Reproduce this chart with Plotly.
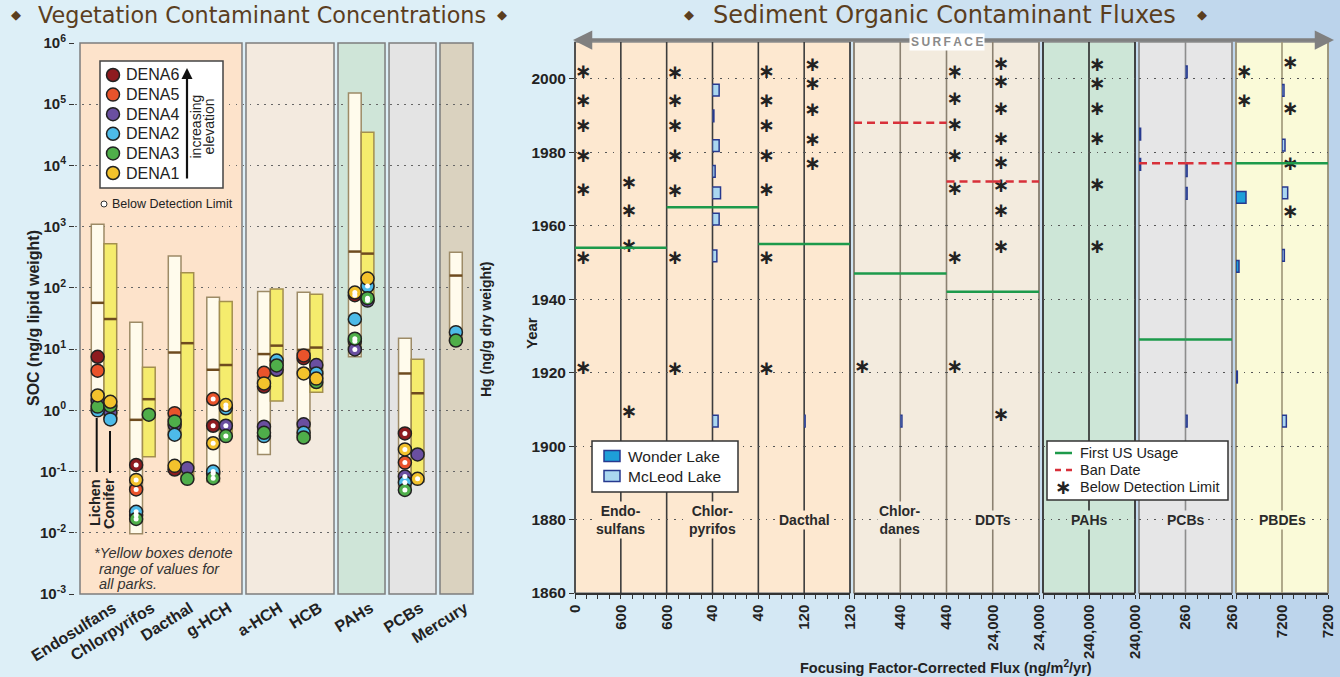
import plotly.graph_objects as go

W, H = 1340, 677
SANS = "Liberation Sans"
TITLE_FONT = "DejaVu Sans"
INK = "#222222"


def PX(p):
    return p / W


def PY(p):
    return 1 - p / H


# ====================== Vegetation contaminant concentrations ======================
CATEGORIES = ["Endosulfans", "Chlorpyrifos", "Dacthal", "g-HCH", "a-HCH", "HCB", "PAHs", "PCBs", "Mercury"]
LICHEN_LOW = [0.95, 0.0096, 0.098, 0.068, 0.19, 0.33, 7.5, 0.057, 13.3]
LICHEN_HIGH = [1100, 27.5, 333, 70.5, 87, 85, 152000, 15.1, 383]
LICHEN_MEDIAN = [57, 0.70, 8.8, 4.6, 8.3, 9.7, 392, 4.0, 159]
CONIFER_LOW = [0.75, 0.175, 0.073, 0.37, 1.42, 1.98, 60, 0.068, None]
CONIFER_HIGH = [525, 5.06, 176, 60, 96, 79, 35000, 6.8, None]
CONIFER_MEDIAN = [31, 1.52, 12.5, 5.5, 11.4, 10.6, 363, 1.9, None]

SITES = ["DENA6", "DENA5", "DENA4", "DENA2", "DENA3", "DENA1"]
SITE_COLORS = ["#8e1b1f", "#e9532b", "#6a4fa0", "#4dbbe9", "#4fae4a", "#f3c22c"]

LICHEN_DENA6 = [7.5, 0.128, 0.108, 0.56, 2.45, 7.1, 76, 0.42, None]
LICHEN_DENA5 = [4.45, 0.051, 0.9, 1.53, 4.1, 7.9, 13.4, 0.14, None]
LICHEN_DENA4 = [1.45, 0.0195, 0.58, 0.093, 0.54, 0.59, 9.9, 0.083, None]
LICHEN_DENA2 = [1.0, 0.022, 0.40, 0.10, 0.38, 0.43, 30.8, 0.066, 18.9]
LICHEN_DENA3 = [1.15, 0.0168, 0.66, 0.078, 0.43, 0.36, 14.8, 0.05, 13.8]
LICHEN_DENA1 = [1.75, 0.073, 0.124, 0.29, 2.75, 4.0, 84, 0.23, None]
# 1 = below detection limit
LICHEN_BDL_DENA6 = [0, 1, 0, 1, 0, 0, 1, 1, 0]
LICHEN_BDL_DENA5 = [0, 1, 0, 1, 0, 0, 1, 1, 0]
LICHEN_BDL_DENA4 = [0, 1, 0, 1, 0, 0, 1, 1, 0]
LICHEN_BDL_DENA2 = [0, 1, 0, 1, 0, 0, 0, 1, 0]
LICHEN_BDL_DENA3 = [0, 1, 0, 1, 0, 0, 1, 1, 0]
LICHEN_BDL_DENA1 = [0, 1, 0, 1, 0, 0, 1, 1, 0]

CONIFER_DENA6 = [None, None, None, None, None, None, None, None, None]
CONIFER_DENA5 = [None, None, None, None, None, None, None, None, None]
CONIFER_DENA4 = [0.92, None, 0.113, 0.56, 4.6, 5.5, 62, 0.19, None]
CONIFER_DENA2 = [0.71, None, None, 1.08, 6.5, 4.0, 107, None, None]
CONIFER_DENA3 = [1.18, 0.85, 0.076, 0.38, 5.4, 2.9, 68, None, None]
CONIFER_DENA1 = [1.38, None, None, 1.22, None, 3.3, 142, 0.076, None]
CONIFER_BDL_DENA6 = [0, 0, 0, 0, 0, 0, 0, 0, 0]
CONIFER_BDL_DENA5 = [0, 0, 0, 0, 0, 0, 0, 0, 0]
CONIFER_BDL_DENA4 = [0, 0, 0, 1, 0, 0, 1, 0, 0]
CONIFER_BDL_DENA2 = [0, 0, 0, 1, 0, 0, 1, 0, 0]
CONIFER_BDL_DENA3 = [0, 0, 0, 1, 0, 0, 1, 0, 0]
CONIFER_BDL_DENA1 = [0, 0, 0, 1, 0, 0, 0, 1, 0]

LOG_TICKS = [-3, -2, -1, 0, 1, 2, 3, 4, 5, 6]

# ====================== Sediment organic contaminant fluxes ======================
CONTAMINANTS = ["Endo-<br>sulfans", "Chlor-<br>pyrifos", "Dacthal", "Chlor-<br>danes", "DDTs", "PAHs", "PCBs", "PBDEs"]
FLUX_MAX = [600, 40, 120, 440, 24000, 240000, 260, 7200]
FLUX_MAX_LABELS = ["600", "40", "120", "440", "24,000", "240,000", "260", "7200"]
FIRST_US_USAGE = [1954, 1965, 1955, 1947, 1942, None, 1929, 1977]
BAN_DATE = [None, None, None, 1988, 1972, None, 1977, None]
LAKES = ["Wonder Lake", "McLeod Lake"]
WONDER_BAR_YEARS = [[], [], [], [], [], [], [1984.9, 1976.7], [1967.7, 1948.9, 1918.8]]
WONDER_BAR_FLUX = [[], [], [], [], [], [], [9, 9], [1565, 470, 210]]
MCLEOD_BAR_YEARS = [[], [1996.9, 1989.9, 1981.8, 1974.8, 1968.9, 1961.8, 1951.8, 1906.8], [1906.8], [1906.8],
                    [], [], [2001.9, 1975.0, 1968.8, 1906.8], [1996.8, 1981.9, 1968.9, 1951.9, 1906.8]]
MCLEOD_BAR_FLUX = [[], [5.8, 1.2, 5.8, 2.3, 7.0, 5.8, 3.8, 4.9], [2.5], [16],
                   [], [], [9, 9, 9, 9], [313, 470, 890, 365, 680]]
WONDER_BDL_YEARS = [[2001.5, 1993.8, 1986.9, 1978.8, 1969.5, 1950.9, 1920.9],
                    [2001.3, 1993.8, 1986.9, 1978.6, 1969.1, 1950.9, 1920.6],
                    [2001.5, 1993.8, 1986.9, 1978.6, 1969.5, 1951.0, 1920.6],
                    [1921.3],
                    [2001.5, 1994.1, 1987.0, 1978.8, 1969.6, 1951.0, 1921.3],
                    [], [], [2001.5, 1993.6]]
MCLEOD_BDL_YEARS = [[1971.3, 1963.6, 1954.1, 1908.9],
                    [],
                    [2003.4, 1998.2, 1991.1, 1983.1, 1976.4],
                    [],
                    [2003.7, 1998.8, 1991.6, 1983.4, 1976.8, 1970.4, 1963.6, 1953.8, 1908.3],
                    [2003.6, 1998.2, 1991.6, 1983.2, 1970.7, 1953.9],
                    [], [2004.0, 1991.6, 1976.6, 1963.4]]
YEAR_TICKS = [1860, 1880, 1900, 1920, 1940, 1960, 1980, 2000]
SLICE_YEARS = 3.2

# ====================== layout constants ======================
CAT_POS = [0, 1, 2, 3, 4.32, 5.35, 6.68, 7.98, 9.14]
BOX_W = 0.33
HALF = BOX_W / 2
LEFT_PANELS = [(-0.623, 3.584, "#fde3cb"), (3.688, 5.974, "#f3eadf"), (6.078, 7.299, "#cfe5d8"),
               (7.403, 8.623, "#e4e4e4"), (8.727, 9.584, "#dad2bf")]

GROUP_START_PX = [575, 854, 1043, 1139, 1236]
GROUP_END_PX = [850, 1039, 1135, 1232, 1328]
GROUP_MEMBERS = [[0, 1, 2], [3, 4], [5], [6], [7]]
GROUP_FILL = ["#fde8d0", "#f3ebde", "#cde6d7", "#e6e6e7", "#fafad8"]
GROUP_LINE = ["#3c3c3c", "#8b8171", "#2a2a2a", "#8d8d8d", "#9d9577"]
LAKE_FILL = ["#1e9fd8", "#aad7f0"]
LAKE_EDGE = "#27398f"

fig = go.Figure()
shapes = []
anns = []


def txt(t, x, y, size=14, color=INK, bold=False, italic=False, family=SANS,
        xanchor="center", yanchor="middle", angle=0, bg=None):
    d = dict(text=t, x=PX(x), y=PY(y), xref="paper", yref="paper", showarrow=False,
             xanchor=xanchor, yanchor=yanchor, textangle=angle,
             font=dict(family=family, size=size, color=color,
                       weight="bold" if bold else "normal",
                       style="italic" if italic else "normal"))
    if bg:
        d["bgcolor"] = bg
    anns.append(d)


def rect_px(x0, y0, x1, y1, fill, line_color=None, lw=0, layer="above"):
    shapes.append(dict(type="rect", xref="paper", yref="paper", x0=PX(x0), x1=PX(x1),
                       y0=PY(y1), y1=PY(y0), fillcolor=fill, layer=layer,
                       line=dict(color=line_color or fill, width=lw)))


def hex2rgb(h):
    return tuple(int(h[i:i + 2], 16) for i in (1, 3, 5))


# ---- background gradient ----
c_a, c_b = hex2rgb("#ddeff7"), hex2rgb("#bbd3eb")
NSTRIP = 67
for i in range(NSTRIP):
    t = i / (NSTRIP - 1)
    t = max(0.0, (t - 0.35) / 0.65) ** 1.3
    col = "rgb(%d,%d,%d)" % tuple(round(a + (b - a) * t) for a, b in zip(c_a, c_b))
    shapes.append(dict(type="rect", xref="paper", yref="paper", x0=i / NSTRIP, x1=(i + 1) / NSTRIP + 0.002,
                       y0=0, y1=1, fillcolor=col, line=dict(width=0), layer="below"))

# ---- left panel backgrounds ----
for x0, x1, col in LEFT_PANELS:
    shapes.append(dict(type="rect", xref="x", yref="y domain", x0=x0, x1=x1, y0=0, y1=1,
                       fillcolor=col, line=dict(color="#7d7d7d", width=1.5), layer="below"))

# ---- right group backgrounds ----
for g in range(len(GROUP_MEMBERS)):
    rect_px(GROUP_START_PX[g], 42, GROUP_END_PX[g], 593, GROUP_FILL[g], "#8d8d8d", 1.5, layer="below")

# ---- left: range boxes ----
n_cat = len(CATEGORIES)
single = [CONIFER_LOW[i] is None for i in range(n_cat)]
lich_x = [CAT_POS[i] + (0 if single[i] else -HALF) for i in range(n_cat)]
con_idx = [i for i in range(n_cat) if not single[i]]
con_x = [CAT_POS[i] + HALF for i in con_idx]

fig.add_trace(go.Bar(x=lich_x, base=LICHEN_LOW, y=[h - l for h, l in zip(LICHEN_HIGH, LICHEN_LOW)],
                     width=BOX_W, xaxis="x", yaxis="y", showlegend=False, hoverinfo="skip",
                     marker=dict(color="#fffbec", line=dict(color="#9d8b67", width=1.5))))
fig.add_trace(go.Bar(x=con_x, base=[CONIFER_LOW[i] for i in con_idx],
                     y=[CONIFER_HIGH[i] - CONIFER_LOW[i] for i in con_idx],
                     width=BOX_W, xaxis="x", yaxis="y", showlegend=False, hoverinfo="skip",
                     marker=dict(color="#f5ec6d", line=dict(color="#a38f4f", width=1.5))))

mx, my = [], []
for x, m in zip(lich_x, LICHEN_MEDIAN):
    mx += [x - HALF, x + HALF, None]
    my += [m, m, None]
for x, i in zip(con_x, con_idx):
    mx += [x - HALF, x + HALF, None]
    my += [CONIFER_MEDIAN[i], CONIFER_MEDIAN[i], None]
fig.add_trace(go.Scatter(x=mx, y=my, mode="lines", line=dict(color="#6e4b1f", width=2.5),
                         xaxis="x", yaxis="y", showlegend=False, hoverinfo="skip"))

site_lichen = [LICHEN_DENA6, LICHEN_DENA5, LICHEN_DENA4, LICHEN_DENA2, LICHEN_DENA3, LICHEN_DENA1]
site_lichen_bdl = [LICHEN_BDL_DENA6, LICHEN_BDL_DENA5, LICHEN_BDL_DENA4, LICHEN_BDL_DENA2,
                   LICHEN_BDL_DENA3, LICHEN_BDL_DENA1]
site_conifer = [CONIFER_DENA6, CONIFER_DENA5, CONIFER_DENA4, CONIFER_DENA2, CONIFER_DENA3, CONIFER_DENA1]
site_conifer_bdl = [CONIFER_BDL_DENA6, CONIFER_BDL_DENA5, CONIFER_BDL_DENA4, CONIFER_BDL_DENA2,
                    CONIFER_BDL_DENA3, CONIFER_BDL_DENA1]

bdl_x, bdl_y = [], []
for s, site in enumerate(SITES):
    xs, ys = [], []
    for i in range(n_cat):
        v = site_lichen[s][i]
        if v is not None:
            xs.append(lich_x[i]); ys.append(v)
            if site_lichen_bdl[s][i]:
                bdl_x.append(lich_x[i]); bdl_y.append(v)
        v = site_conifer[s][i]
        if v is not None:
            xs.append(CAT_POS[i] + HALF); ys.append(v)
            if site_conifer_bdl[s][i]:
                bdl_x.append(CAT_POS[i] + HALF); bdl_y.append(v)
    fig.add_trace(go.Scatter(x=xs, y=ys, mode="markers", name=site, xaxis="x", yaxis="y",
                             marker=dict(size=13, color=SITE_COLORS[s], line=dict(color="#222", width=1.5)),
                             showlegend=False, hoverinfo="skip", cliponaxis=False))
fig.add_trace(go.Scatter(x=bdl_x, y=bdl_y, mode="markers", name="Below Detection Limit",
                         xaxis="x", yaxis="y", showlegend=False, hoverinfo="skip", cliponaxis=False,
                         marker=dict(size=5, color="white", line=dict(width=0))))

# ---- right chart: sub-column axes ----
sub_domains = []
for g, members in enumerate(GROUP_MEMBERS):
    n = 2 * len(members)
    w = (GROUP_END_PX[g] - GROUP_START_PX[g]) / n
    for k in range(n):
        sub_domains.append((GROUP_START_PX[g] + k * w, GROUP_START_PX[g] + (k + 1) * w))

# vertical column lines
sub_i = 0
for g, members in enumerate(GROUP_MEMBERS):
    n = 2 * len(members)
    edges = [sub_domains[sub_i + k][0] for k in range(n)] + [sub_domains[sub_i + n - 1][1]]
    for e in edges:
        shapes.append(dict(type="line", xref="paper", yref="paper", x0=PX(e), x1=PX(e),
                           y0=PY(593), y1=PY(42), line=dict(color=GROUP_LINE[g], width=1.6), layer="below"))
    sub_i += n

layout_axes = {}
for c in range(len(CONTAMINANTS)):
    for l in range(2):
        s = 2 * c + l
        n = s + 2
        ax = "x%d" % n
        mxv = FLUX_MAX[c]
        tv = [mxv * k / 4 for k in range(5)]
        tt = ["", "", "", "", FLUX_MAX_LABELS[c]]
        if s == 0:
            tt[0] = "0"
        a, b = sub_domains[s]
        layout_axes["xaxis%d" % n] = dict(
            domain=[PX(a), PX(b)], range=[0, mxv], anchor="y2", tickmode="array", tickvals=tv,
            ticktext=tt, tickangle=-90, ticks="outside", ticklen=4, tickwidth=1, tickcolor="#333",
            showgrid=False, zeroline=False, showline=True, linecolor="#333", linewidth=1.5,
            tickfont=dict(family=SANS, size=15, color=INK, weight="bold"), automargin=False,
            fixedrange=True)
        years = (WONDER_BAR_YEARS if l == 0 else MCLEOD_BAR_YEARS)[c]
        flux = (WONDER_BAR_FLUX if l == 0 else MCLEOD_BAR_FLUX)[c]
        fig.add_trace(go.Bar(x=flux, y=years, base=[0] * len(flux), orientation="h", width=SLICE_YEARS,
                             xaxis=ax, yaxis="y2", name=LAKES[l], showlegend=False, hoverinfo="skip",
                             marker=dict(color=LAKE_FILL[l], line=dict(color=LAKE_EDGE, width=1.5))))
        bdl = (WONDER_BDL_YEARS if l == 0 else MCLEOD_BDL_YEARS)[c]
        fig.add_trace(go.Scatter(x=[0] * len(bdl), y=bdl, mode="text", text=["\u2217"] * len(bdl),
                                 textposition="middle right", xaxis=ax, yaxis="y2", cliponaxis=False,
                                 textfont=dict(family="DejaVu Sans", size=20, color="#222", weight="bold"),
                                 showlegend=False, hoverinfo="skip"))
        if FIRST_US_USAGE[c] is not None:
            shapes.append(dict(type="line", xref=ax + " domain", yref="y2", x0=0, x1=1,
                               y0=FIRST_US_USAGE[c], y1=FIRST_US_USAGE[c],
                               line=dict(color="#1d9a4b", width=2.5), layer="above"))
        if BAN_DATE[c] is not None:
            shapes.append(dict(type="line", xref=ax + " domain", yref="y2", x0=0, x1=1,
                               y0=BAN_DATE[c], y1=BAN_DATE[c],
                               line=dict(color="#d8303a", width=2.5, dash="8px,5px"), layer="above"))

# contaminant labels
for c, name in enumerate(CONTAMINANTS):
    s = 2 * c
    xc = sub_domains[s][1]
    g = [gi for gi, m in enumerate(GROUP_MEMBERS) if c in m][0]
    txt("<b>%s</b>" % name, xc, 520, size=14, color="#2a2a2a", bg=GROUP_FILL[g])

# ---- top arrow & SURFACE ----
for head, ax_off in ((573, 380), (1334, -381)):
    anns.append(dict(x=PX(head), y=PY(40), xref="paper", yref="paper", text="", showarrow=True,
                     ax=ax_off, ay=0, arrowhead=2, arrowsize=1.1, arrowwidth=3.5, arrowcolor="#808080"))
txt("S\u2009U\u2009R\u2009F\u2009A\u2009C\u2009E", 947, 42, size=12, color="#8a8a8a", bold=True, bg="white")

# ---- titles ----
TITLE_COL = "#5b3e1e"
txt("Vegetation Contaminant Concentrations", 261.5, 15, size=22.3, color=TITLE_COL, family=TITLE_FONT)
txt("Sediment Organic Contaminant Fluxes", 944.5, 15, size=24, color=TITLE_COL, family=TITLE_FONT)
for xd in (15.5, 501.5, 688.5, 1201.5):
    txt("\u25c6", xd, 15, size=13, color=TITLE_COL, family=TITLE_FONT)

# ---- left legend (DENA sites) ----
rect_px(100, 61, 223, 188, "white", "#444", 1.5)
for k, site in enumerate(SITES):
    cy = 75 + k * 19.6
    shapes.append(dict(type="circle", xref="paper", yref="paper", x0=PX(106.5), x1=PX(119.5),
                       y0=PY(cy + 6.5), y1=PY(cy - 6.5), fillcolor=SITE_COLORS[k],
                       line=dict(color="#222", width=1.5), layer="above"))
    txt(site, 124, cy, size=16, color=INK, xanchor="left")
anns.append(dict(x=PX(187), y=PY(68), xref="paper", yref="paper", text="", showarrow=True,
                 ax=0, ay=112, arrowhead=2, arrowsize=1, arrowwidth=2.2, arrowcolor="#111"))
txt("increasing", 195.5, 127, size=14, angle=-90)
txt("elevation", 208.5, 127, size=14, angle=-90)
shapes.append(dict(type="circle", xref="paper", yref="paper", x0=PX(101), x1=PX(107),
                   y0=PY(207), y1=PY(201), fillcolor="white", line=dict(color="#333", width=1), layer="above"))
txt("Below Detection Limit", 110, 204, size=12.5, xanchor="left")

# note
txt("*Yellow boxes denote", 92, 553, size=14.5, italic=True, xanchor="left", color="#333")
txt("range of values for", 97, 569, size=14.5, italic=True, xanchor="left", color="#333")
txt("all parks.", 97, 584, size=14.5, italic=True, xanchor="left", color="#333")

# lichen / conifer markers
shapes.append(dict(type="line", xref="paper", yref="paper", x0=PX(96.7), x1=PX(96.7), y0=PY(418), y1=PY(472),
                   line=dict(color="#111", width=2), layer="above"))
shapes.append(dict(type="line", xref="paper", yref="paper", x0=PX(110), x1=PX(110), y0=PY(431), y1=PY(473),
                   line=dict(color="#111", width=2), layer="above"))
txt("Lichen", 95.5, 502.5, size=14.5, bold=True, angle=-90)
txt("Conifer", 109, 503, size=14.5, bold=True, angle=-90)

# axis titles
txt("SOC (ng/g lipid weight)", 33, 318, size=16, bold=True, angle=-90)
txt("Hg (ng/g dry weight)", 486, 330, size=14, bold=True, angle=-90)
txt("Year", 531, 333, size=15, bold=True, angle=-90)
txt("Focusing Factor-Corrected Flux (ng/m<sup>2</sup>/yr)", 946, 667, size=14.5, bold=True)

# ---- right legends ----
rect_px(592, 441, 738, 492, "white", "#333", 1.5)
for k, lake in enumerate(LAKES):
    cy = 456 + 20 * k
    rect_px(604, cy - 5.5, 620, cy + 5.5, LAKE_FILL[k], LAKE_EDGE, 1.5)
    txt(lake, 626, cy, size=15.5, xanchor="left")

rect_px(1047, 441, 1228, 500, "white", "#333", 1.5)
shapes.append(dict(type="line", xref="paper", yref="paper", x0=PX(1055), x1=PX(1072), y0=PY(453), y1=PY(453),
                   line=dict(color="#1d9a4b", width=2.5), layer="above"))
shapes.append(dict(type="line", xref="paper", yref="paper", x0=PX(1055), x1=PX(1073), y0=PY(470), y1=PY(470),
                   line=dict(color="#d8303a", width=2.5, dash="6px,5px"), layer="above"))
txt("\u2217", 1063, 487, size=20, bold=True, family="DejaVu Sans")
txt("First US Usage", 1078, 453, size=14.5, xanchor="left")
txt("Ban Date", 1078, 470, size=14.5, xanchor="left")
txt("Below Detection Limit", 1078, 487, size=14.5, xanchor="left")

# ---- layout ----
fig.update_layout(
    width=W, height=H, margin=dict(l=0, r=0, t=0, b=0), autosize=False,
    paper_bgcolor="#ddeff7", plot_bgcolor="rgba(0,0,0,0)",
    showlegend=False, hovermode=False, barmode="overlay",
    xaxis=dict(domain=[PX(75), PX(474)], range=[-0.753, 9.61], anchor="y", tickmode="array",
               tickvals=CAT_POS, ticktext=CATEGORIES, tickangle=-32, ticks="", showgrid=False,
               zeroline=False, showline=False, automargin=False, fixedrange=True,
               ticklabelshift=9, ticklabelstandoff=1,
               tickfont=dict(family=SANS, size=16, color=INK, weight="bold")),
    yaxis=dict(type="log", range=[-3, 6], domain=[PY(594), PY(43)], anchor="x", tickmode="array",
               tickvals=[10.0 ** k for k in LOG_TICKS], ticktext=["10<sup>%d</sup>" % k for k in LOG_TICKS],
               ticks="outside", ticklen=5, tickcolor="#333", showgrid=True, gridcolor="#666",
               griddash="1.5px,5.5px", gridwidth=1.3, zeroline=False, showline=False,
               automargin=False, fixedrange=True,
               tickfont=dict(family=SANS, size=15, color=INK, weight="bold")),
    yaxis2=dict(domain=[PY(593), PY(42)], range=[1860, 2010], anchor="x2", tickmode="array",
                tickvals=YEAR_TICKS, ticks="outside", ticklen=5, tickcolor="#333", showgrid=True,
                gridcolor="#555", griddash="1.5px,6px", gridwidth=1.3, zeroline=False, showline=False,
                automargin=False, fixedrange=True,
                tickfont=dict(family=SANS, size=15.5, color=INK, weight="bold")),
    shapes=shapes, annotations=anns,
)
fig.update_layout(**layout_axes)

fig.write_html("out.html", config={"displayModeBar": False},
               post_script="document.body.style.margin='0px';")
